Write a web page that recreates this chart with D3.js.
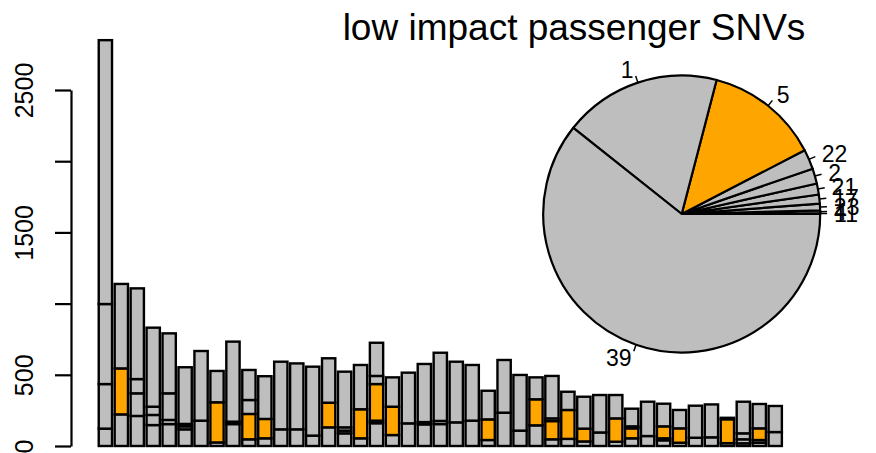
<!DOCTYPE html>
<html>
<head>
<meta charset="utf-8">
<script src="https://cdn.jsdelivr.net/npm/d3@7"></script>
<style>
  html, body { margin: 0; padding: 0; background: #ffffff; }
  svg { display: block; font-family: "Liberation Sans", Arial, Helvetica, sans-serif; }
</style>
</head>
<body>
<svg id="chart" width="876" height="453"></svg>
<script>
// ---------- data ----------
const barIds = d3.range(43);
// stack layers, bottom to top (s3 = orange layer)
const s1 = [122,222,211,147,154,117,178,25,154,47,54,117,117,73,131,89,54,160,77,159,152,154,166,178,42,234,108,145,47,50,32,95,30,54,70,40,23,58,61,20,19,23,98];
const s2 = [313,0,159,71,29,21,0,0,17,0,0,0,0,0,0,19,0,18,0,0,16,22,0,0,0,0,0,0,0,0,0,0,0,0,0,14,0,0,0,0,28,19,0];
const s3 = [0,323,0,0,0,0,0,282,0,178,136,0,0,0,173,0,204,257,199,0,0,0,0,0,145,0,0,183,128,203,90,0,164,70,0,84,101,0,0,168,0,82,0];
const s4 = [562,0,100,58,187,17,0,0,0,98,0,0,0,0,0,23,0,57,0,0,0,0,0,0,0,0,0,0,19,0,0,0,0,14,0,0,0,0,0,0,42,0,0];
const s5 = [1853,593,637,555,421,398,489,220,562,211,300,475,463,484,312,391,311,233,206,356,408,479,426,391,201,370,391,154,298,128,224,263,164,124,241,159,129,225,231,10,222,171,183];
const layerNames = ["s1","s2","s3","s4","s5"];
const layerColors = ["#BEBEBE","#BEBEBE","#FFA500","#BEBEBE","#BEBEBE"];

const tickValues = [0, 500, 1000, 1500, 2000, 2500];
const tickLabels = ["0", "500", "", "1500", "", "2500"];

const pieLabels = ["11","4","23","17","21","2","22","5","1","39"];
const pieValues = [0.4, 1.1, 2.8, 3.8, 4.6, 6.4, 8.3, 48, 66.1, 218.5];
const pieColors = ["#BEBEBE","#BEBEBE","#BEBEBE","#BEBEBE","#BEBEBE","#BEBEBE","#BEBEBE","#FFA500","#BEBEBE","#BEBEBE"];

const title = "low impact passenger SNVs";

// ---------- build ----------
const svg = d3.select("#chart");
svg.append("rect").attr("width", 876).attr("height", 453).attr("fill", "#fff");

const y = d3.scaleLinear().domain([0, 2500]).range([446, 90]);
const x = d3.scaleBand().domain(barIds).range([97.4, 783.2])
  .paddingInner(1/6).paddingOuter(1/12);

const table = barIds.map(i => ({id: i, s1: s1[i], s2: s2[i], s3: s3[i], s4: s4[i], s5: s5[i]}));
const stacked = d3.stack().keys(layerNames)(table);

const gBars = svg.append("g");
stacked.forEach((layer, li) => {
  gBars.selectAll(null)
    .data(layer.filter(d => d[1] - d[0] > 0))
    .enter().append("rect")
    .attr("x", d => x(d.data.id))
    .attr("width", x.bandwidth())
    .attr("y", d => y(d[1]))
    .attr("height", d => y(d[0]) - y(d[1]))
    .attr("fill", layerColors[li])
    .attr("stroke", "#000")
    .attr("stroke-width", 2.4);
});

// y axis
const axis = d3.axisLeft(y).tickValues(tickValues)
  .tickFormat((d, i) => tickLabels[i]).tickSize(16).tickSizeOuter(0);
const gAxis = svg.append("g").attr("transform", "translate(71,0)").call(axis);
gAxis.select(".domain").attr("stroke", "#000").attr("stroke-width", 2.2);
gAxis.selectAll(".tick line").attr("stroke", "#000").attr("stroke-width", 2.2);
gAxis.selectAll(".tick text")
  .attr("x", null).attr("dy", null)
  .attr("transform", "translate(-38,0) rotate(-90)")
  .attr("text-anchor", "middle")
  .attr("fill", "#000")
  .style("font-size", "25px")
  .style("font-family", "'Liberation Sans', Arial, sans-serif");

// pie
const cx = 681.7, cy = 214, r = 138.5;
const pie = d3.pie().sort(null).value(d => d)
  .startAngle(Math.PI / 2).endAngle(Math.PI / 2 - 2 * Math.PI);
const arcs = pie(pieValues);
const arc = d3.arc().innerRadius(0).outerRadius(r);
const gPie = svg.append("g").attr("transform", `translate(${cx},${cy})`);
gPie.selectAll("path").data(arcs).enter().append("path")
  .attr("d", arc)
  .attr("fill", (d, i) => pieColors[i])
  .attr("stroke", "#000")
  .attr("stroke-width", 2.2)
  .attr("stroke-linejoin", "round");

arcs.forEach((d, i) => {
  const a = (d.startAngle + d.endAngle) / 2;
  const sx = Math.sin(a), sy = -Math.cos(a);
  gPie.append("line")
    .attr("x1", sx * r).attr("y1", sy * r)
    .attr("x2", sx * r * 1.05).attr("y2", sy * r * 1.05)
    .attr("stroke", "#000").attr("stroke-width", 1.5);
  gPie.append("text")
    .attr("x", sx * r * 1.1).attr("y", sy * r * 1.1)
    .attr("dy", "0.36em")
    .attr("text-anchor", sx < 0 ? "end" : "start")
    .style("font-size", "23px")
    .attr("fill", "#000")
    .text(pieLabels[i]);
});

// title
svg.append("text")
  .attr("x", 574).attr("y", 40)
  .attr("text-anchor", "middle")
  .style("font-size", "37px")
  .attr("fill", "#000")
  .text(title);
</script>
</body>
</html>
